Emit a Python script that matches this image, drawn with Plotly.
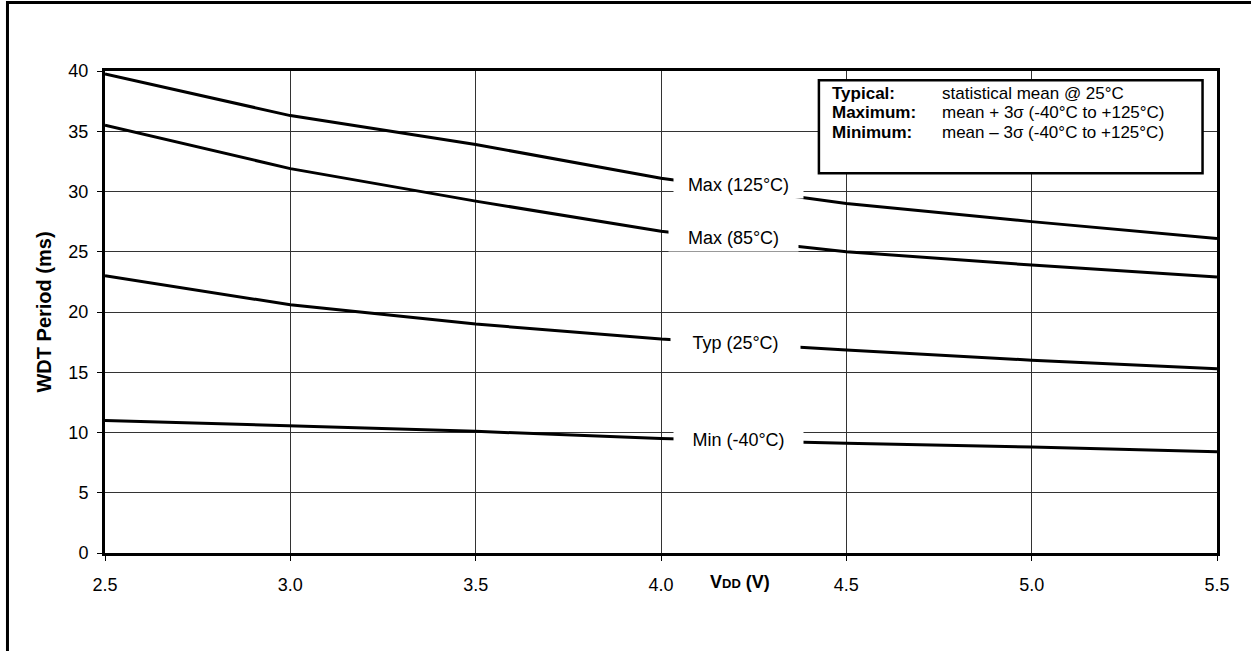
import plotly.graph_objects as go

vdd = [2.5, 3.0, 3.5, 4.0, 4.5, 5.0, 5.5]
max_125 = [39.75, 36.3, 33.9, 31.1, 29.0, 27.5, 26.1]
max_85 = [35.5, 31.9, 29.2, 26.7, 25.0, 23.9, 22.9]
typ_25 = [23.0, 20.6, 19.0, 17.75, 16.85, 16.0, 15.3]
min_m40 = [11.0, 10.55, 10.1, 9.5, 9.1, 8.8, 8.4]

series_names = ["Max (125°C)", "Max (85°C)", "Typ (25°C)", "Min (-40°C)"]
series_values = [max_125, max_85, typ_25, min_m40]
label_x = [4.21, 4.195, 4.20, 4.21]
label_y = [30.55, 26.1, 17.45, 9.4]

x_ticks = [2.5, 3.0, 3.5, 4.0, 4.5, 5.0, 5.5]
x_tick_text = ["2.5", "3.0", "3.5", "4.0", "4.5", "5.0", "5.5"]
y_ticks = [0, 5, 10, 15, 20, 25, 30, 35, 40]

info_labels = ["Typical:", "Maximum:", "Minimum:"]
info_texts = ["statistical mean @ 25°C", "mean + 3σ (-40°C to +125°C)", "mean – 3σ (-40°C to +125°C)"]

FONT = "Arial, Liberation Sans, sans-serif"
FS = 18

fig = go.Figure()
for name, vals in zip(series_names, series_values):
    fig.add_trace(go.Scatter(x=vdd, y=vals, mode="lines", name=name,
                             line=dict(color="black", width=3),
                             showlegend=False, hoverinfo="skip"))

annotations = []
for name, lx, ly in zip(series_names, label_x, label_y):
    annotations.append(dict(x=lx, y=ly, xref="x", yref="y", text=name,
                            showarrow=False, bgcolor="white", width=127, height=24,
                            font=dict(size=FS, color="black", family=FONT)))

# x axis title
annotations.append(dict(x=4.213, y=-0.060, xref="x", yref="paper",
                        text="<b>V<span style='font-size:13px'>DD</span> (V)</b>",
                        showarrow=False, yanchor="middle",
                        font=dict(size=18, color="black", family=FONT)))

# info box text
row_y = [0.953, 0.913, 0.873]
for lab, txt, yy in zip(info_labels, info_texts, row_y):
    annotations.append(dict(x=0.652, y=yy, xref="paper", yref="paper", text=f"<b>{lab}</b>",
                            showarrow=False, xanchor="left", yanchor="middle",
                            font=dict(size=17, color="black", family=FONT)))
    annotations.append(dict(x=0.751, y=yy, xref="paper", yref="paper", text=txt,
                            showarrow=False, xanchor="left", yanchor="middle",
                            font=dict(size=17, color="black", family=FONT)))

shapes = [
    dict(type="rect", xref="paper", yref="paper", x0=0.642, x1=0.987, y0=0.788, y1=0.981,
         line=dict(color="black", width=2.5), fillcolor="white", layer="above"),
    dict(type="rect", xref="paper", yref="paper", x0=-0.0877, x1=1.2, y0=-0.3, y1=1.142,
         line=dict(color="black", width=3), fillcolor="rgba(0,0,0,0)", layer="above"),
]

fig.update_layout(
    width=1251, height=651,
    margin=dict(l=105, r=34, t=71, b=98),
    paper_bgcolor="white", plot_bgcolor="white",
    font=dict(family=FONT, size=FS, color="black"),
    annotations=annotations, shapes=shapes,
    xaxis=dict(range=[2.5, 5.5], tickvals=x_ticks, ticktext=x_tick_text,
               showgrid=True, gridcolor="#333", gridwidth=1,
               showline=True, linecolor="black", linewidth=3, mirror=True,
               ticks="outside", ticklen=5, tickcolor="black", zeroline=False,
               ticklabelstandoff=8,
               tickfont=dict(size=FS, family=FONT)),
    yaxis=dict(range=[0, 40], tickvals=y_ticks,
               showgrid=True, gridcolor="#333", gridwidth=1,
               showline=True, linecolor="black", linewidth=3, mirror=True,
               ticks="outside", ticklen=5, tickcolor="black", zeroline=False,
               ticklabelstandoff=5,
               title=dict(text="<b>WDT Period (ms)</b>", font=dict(size=20, family=FONT), standoff=12),
               tickfont=dict(size=FS, family=FONT)),
)

fig.write_html("out.html",
               config={"displayModeBar": False},
               post_script="document.body.style.margin='0';document.body.style.overflow='hidden';")
